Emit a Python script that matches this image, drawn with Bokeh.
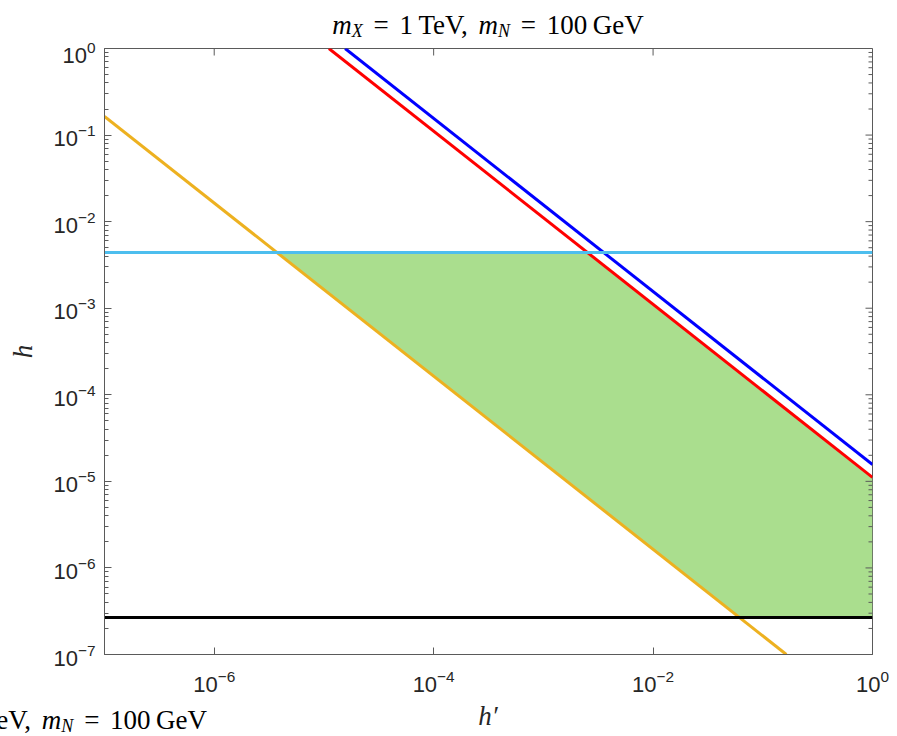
import math
from bokeh.plotting import figure
from bokeh.layouts import column
from bokeh.models import FixedTicker, LogTickFormatter, Range1d, Div
from bokeh.embed import file_html
from bokeh.resources import INLINE

# ---------------- data ----------------
x_limits = [1e-7, 1e0]
y_limits = [1e-7, 1e0]

orange_x = [1e-7, 0.164]
orange_y = [0.164, 1e-7]
red_x = [1.11e-5, 1.0]
red_y = [1.0, 1.11e-5]
blue_x = [1.56e-5, 1.0]
blue_y = [1.0, 1.56e-5]
cyan_x = [1e-7, 1.0]
cyan_y = [4.4e-3, 4.4e-3]
black_x = [1e-7, 1.0]
black_y = [2.67e-7, 2.67e-7]
region_x = [3.73e-6, 2.52e-3, 1.0, 1.0, 6.14e-2]
region_y = [4.4e-3, 4.4e-3, 1.11e-5, 2.67e-7, 2.67e-7]

x_ticks = [1e-6, 1e-4, 1e-2, 1e0]
y_ticks = [1e-7, 1e-6, 1e-5, 1e-4, 1e-3, 1e-2, 1e-1, 1e0]
y_minor = [m * 10.0 ** e for e in range(-7, 0) for m in range(2, 10)]

x_label = "h\u2032"
y_label = "h"

# ---------------- layout geometry ----------------
W = 897
TOP_H = 42          # title strip
BOT_H = 30          # bottom strip (x label + clipped caption)
MAIN_H = 736 - TOP_H - BOT_H
FL, FR = 104, 872   # frame left/right (px)
FT, FB = 48, 654    # frame top/bottom (page px)

AX = "#5a5a5a"
TXT = "#262626"

# ---------------- main figure ----------------
p = figure(width=W, height=MAIN_H, x_axis_type="log", y_axis_type="log",
           x_range=Range1d(*x_limits), y_range=Range1d(*y_limits),
           output_backend="svg", toolbar_location=None, title_location=None,
           min_border_left=FL, min_border_right=W - FR,
           min_border_top=FT - TOP_H, min_border_bottom=TOP_H + MAIN_H - FB)
p.grid.visible = False
p.outline_line_color = AX
p.outline_line_width = 1
p.background_fill_color = "white"
p.border_fill_color = "white"


def style(ax):
    ax.axis_line_color = AX
    ax.axis_line_width = 1
    ax.major_tick_line_color = AX
    ax.minor_tick_line_color = AX
    ax.major_tick_in = 7
    ax.major_tick_out = 0
    ax.minor_tick_in = 4
    ax.minor_tick_out = 0
    ax.major_label_text_font = "Liberation Sans"
    ax.major_label_text_font_size = "22px"
    ax.major_label_text_color = TXT


xt = FixedTicker(ticks=x_ticks, minor_ticks=[])
yt = FixedTicker(ticks=y_ticks, minor_ticks=y_minor)

xa = p.xaxis[0]
xa.ticker = xt
xa.formatter = LogTickFormatter()
style(xa)
xa.major_label_standoff = 15

ya = p.yaxis[0]
ya.ticker = yt
ya.formatter = LogTickFormatter()
style(ya)
ya.major_label_standoff = 9
ya.axis_label = y_label
ya.axis_label_text_font = "Liberation Serif"
ya.axis_label_text_font_style = "italic"
ya.axis_label_text_font_size = "27px"
ya.axis_label_text_color = TXT
ya.axis_label_standoff = 12

# marks
p.patch(region_x, region_y, fill_color="#aade8e", line_color=None)
p.line(orange_x, orange_y, line_color="#EDB120", line_width=3)
p.line(red_x, red_y, line_color="#FF0000", line_width=3)
p.line(blue_x, blue_y, line_color="#0000FF", line_width=3)
p.line(cyan_x, cyan_y, line_color="#4DBEEE", line_width=3)
p.line(black_x, black_y, line_color="#000000", line_width=3)

# inward box ticks on top and right edges
p.ray(x=x_ticks, y=[y_limits[1]] * len(x_ticks), length=7, length_units="screen",
      angle=-math.pi / 2, line_color=AX, line_width=1)
p.ray(x=[x_limits[1]] * len(y_ticks), y=y_ticks, length=7, length_units="screen",
      angle=math.pi, line_color=AX, line_width=1)
p.ray(x=[x_limits[1]] * len(y_minor), y=y_minor, length=4, length_units="screen",
      angle=math.pi, line_color=AX, line_width=1)

# ---------------- title text (HTML, real text) ----------------
FS = 27
BASE_OFF = 22.6  # baseline offset inside a 27px line box (Liberation Serif)


def sub(t):
    return ('<span style="position:relative;top:3px;font-size:18px;'
            f'font-style:italic">{t}</span>')


title_html = (f'<i>m</i>{sub("X")} = 1&thinsp;TeV, '
              f'<i>m</i>{sub("N")} = 100&thinsp;GeV')

SPAN = (f"font-family:'Liberation Serif';font-size:{FS}px;line-height:{FS}px;"
        "color:#000;white-space:nowrap;word-spacing:4px;position:absolute;")

cx = (FL + FR) / 2
top_html = (f'<div style="position:relative;width:{W}px;height:{TOP_H}px;overflow:hidden;background:#fff">'
            f'<div style="{SPAN}left:0;width:{2 * cx}px;text-align:center;top:{35 - BASE_OFF}px">{title_html}</div>'
            '</div>')

b0 = TOP_H + MAIN_H
bot_html = (f'<div style="position:relative;width:{W}px;height:{BOT_H}px;overflow:hidden;background:#fff">'
            f'<div style="{SPAN}right:{W - 207}px;top:{730 - b0 - BASE_OFF}px">{title_html}</div>'
            f'<div style="{SPAN}left:0;width:{2 * cx}px;text-align:center;color:{TXT};'
            f'top:{726 - b0 - BASE_OFF}px"><i>{x_label}</i></div>'
            '</div>')

top_div = Div(text=top_html, width=W, height=TOP_H, margin=0)
bot_div = Div(text=bot_html, width=W, height=BOT_H, margin=0)

layout = column(top_div, p, bot_div, spacing=0)

open("out.html", "w").write(file_html(layout, INLINE))
